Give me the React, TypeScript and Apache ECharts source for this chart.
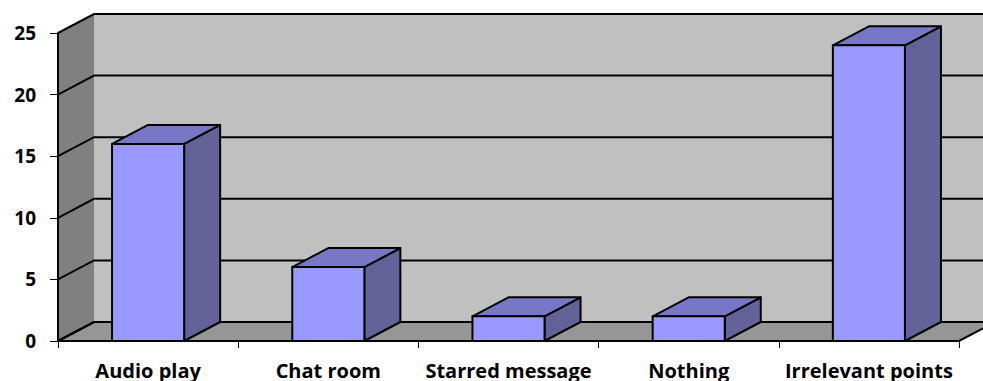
import React, { useEffect, useRef } from "react";
import * as echarts from "echarts";

const categories = ["Audio play", "Chat room", "Starred message", "Nothing", "Irrelevant points"];
const values = [16, 6, 2, 2, 24];
const yTicks = [0, 5, 10, 15, 20, 25];

const DX = 36;
const DY = -19;
const FONT = "'Open Sans', 'DejaVu Sans', sans-serif";

export default function App() {
  const ref = useRef<HTMLDivElement>(null);
  useEffect(() => {
    if (!ref.current) return;
    const chart = echarts.init(ref.current, null, { renderer: "svg" });
    const option: any = {
      animation: false,
      backgroundColor: "#ffffff",
      grid: { left: 58, right: 24, top: 33, bottom: 40, containLabel: false },
      xAxis: {
        type: "category",
        data: categories,
        z: 10,
        boundaryGap: true,
        axisLine: { show: true, lineStyle: { color: "#000", width: 2 } },
        axisTick: { show: true, length: 7, alignWithLabel: false, lineStyle: { color: "#000", width: 1 } },
        axisLabel: { interval: 0, margin: 19, color: "#000", fontWeight: "bold", fontSize: 20, fontFamily: FONT },
        splitLine: { show: false },
      },
      yAxis: {
        type: "value",
        min: 0,
        max: 25,
        interval: 5,
        z: 10,
        axisLine: { show: true, lineStyle: { color: "#000", width: 2 } },
        axisTick: { show: true, length: 8, lineStyle: { color: "#000", width: 1 } },
        axisLabel: { margin: 22, color: "#000", fontWeight: "bold", fontSize: 19, fontFamily: FONT },
        splitLine: { show: false },
      },
      series: [
        {
          type: "custom",
          z: 1,
          silent: true,
          data: [[0, 0]],
          renderItem: (params: any, api: any) => {
            const cs = params.coordSys;
            const x0 = cs.x;
            const x1 = cs.x + cs.width;
            const yb = cs.y + cs.height;
            const yt = cs.y;
            const far = x1 + DX + 60;
            const children: any[] = [
              {
                type: "polygon",
                shape: { points: [[x0 + DX, yt + DY], [far, yt + DY], [far, yb + DY], [x0 + DX, yb + DY]] },
                style: { fill: "#C0C0C0", stroke: "none" },
              },
              {
                type: "polygon",
                shape: { points: [[x0, yb], [x0, yt], [x0 + DX, yt + DY], [x0 + DX, yb + DY]] },
                style: { fill: "#808080", stroke: "none" },
              },
              {
                type: "polygon",
                shape: { points: [[x0, yb], [x0 + DX, yb + DY], [x1 + DX, yb + DY], [x1, yb]] },
                style: { fill: "#969696", stroke: "#000", lineWidth: 2 },
              },
            ];
            yTicks.forEach((v) => {
              const y = api.coord([0, v])[1];
              children.push({
                type: "polyline",
                shape: { points: [[x0, y], [x0 + DX, y + DY], [far, y + DY]] },
                style: { fill: "none", stroke: "#000", lineWidth: 2 },
              });
            });
            return { type: "group", children };
          },
        },
        {
          type: "custom",
          z: 2,
          data: values.map((v, i) => [i, v]),
          encode: { x: 0, y: 1 },
          renderItem: (params: any, api: any) => {
            const idx = api.value(0);
            const top = api.coord([idx, api.value(1)]);
            const base = api.coord([idx, 0]);
            const w = api.size([1, 0])[0] * 0.4;
            const xl = top[0] - w / 2;
            const xr = top[0] + w / 2;
            const yt = top[1];
            const yb = base[1];
            const st = { stroke: "#000", lineWidth: 2, lineJoin: "round" };
            return {
              type: "group",
              children: [
                {
                  type: "polygon",
                  shape: { points: [[xr, yt], [xr + DX, yt + DY], [xr + DX, yb + DY], [xr, yb]] },
                  style: { fill: "#636399", ...st },
                },
                {
                  type: "polygon",
                  shape: { points: [[xl, yt], [xl + DX, yt + DY], [xr + DX, yt + DY], [xr, yt]] },
                  style: { fill: "#7777C6", ...st },
                },
                {
                  type: "polygon",
                  shape: { points: [[xl, yt], [xr, yt], [xr, yb], [xl, yb]] },
                  style: { fill: "#9999FF", ...st },
                },
              ],
            };
          },
        },
      ],
    };
    chart.setOption(option);
    return () => chart.dispose();
  }, []);
  return (
    <div
      ref={ref}
      style={{ position: "fixed", left: 0, top: 0, width: 983, height: 381, background: "#fff" }}
    />
  );
}
